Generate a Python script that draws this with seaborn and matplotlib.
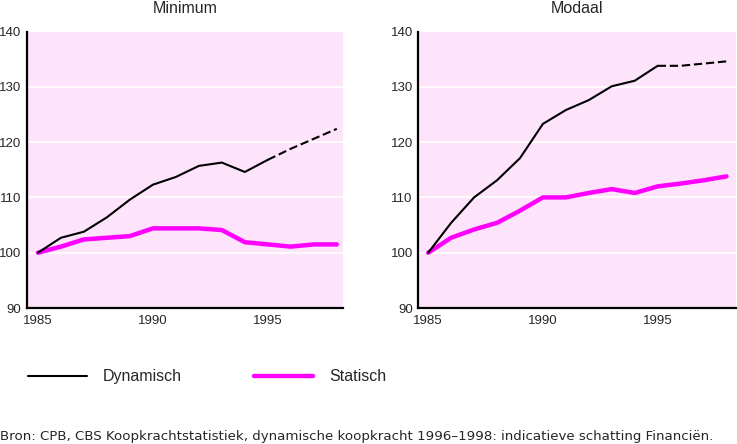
import pandas as pd
import matplotlib.pyplot as plt
import seaborn as sns
from matplotlib.lines import Line2D

# Data (index 1985 = 100)
years = list(range(1985, 1999))
min_dynamisch = [100, 102.7, 103.8, 106.4, 109.6, 112.3, 113.7, 115.7, 116.3, 114.6, 116.8, 118.8, 120.6, 122.4]
min_statisch = [100, 101.1, 102.4, 102.7, 103.0, 104.4, 104.4, 104.4, 104.1, 101.9, 101.5, 101.1, 101.5, 101.5]
mod_dynamisch = [100, 105.4, 110.0, 113.1, 117.1, 123.3, 125.8, 127.6, 130.1, 131.1, 133.8, 133.8, 134.2, 134.6]
mod_statisch = [100, 102.7, 104.2, 105.4, 107.6, 110.0, 110.0, 110.8, 111.5, 110.8, 112.0, 112.5, 113.1, 113.8]
panel_titles = ["Minimum", "Modaal"]
series_names = ["Dynamisch", "Statisch"]
estimate_from = 1995  # dynamic values after this year are estimates (dashed)
source_text = "Bron: CPB, CBS Koopkrachtstatistiek, dynamische koopkracht 1996\u20131998: indicatieve schatting Financi\u00ebn."

sns.set_style("white")
plt.rcParams['font.family'] = ['Liberation Sans', 'DejaVu Sans']

PINK_BG = "#fde4fb"
MAGENTA = "#ff00ff"

fig = plt.figure(figsize=(7.37, 4.44), dpi=100)
ax_left = fig.add_axes([0.0365, 0.3063, 0.4289, 0.6227])
ax_right = fig.add_axes([0.5676, 0.3063, 0.4306, 0.6227])

panels = [
    (ax_left, min_dynamisch, min_statisch, (1984.52, 1998.27)),
    (ax_right, mod_dynamisch, mod_statisch, (1984.57, 1998.4)),
]

for (ax, dyn, stat, xlim), title in zip(panels, panel_titles):
    df = pd.DataFrame({"Jaar": years, "Dynamisch": dyn, "Statisch": stat})
    solid = df[df["Jaar"] <= estimate_from]
    dashed = df[df["Jaar"] >= estimate_from]

    ax.set_facecolor(PINK_BG)
    for yv in [100, 110, 120, 130]:
        ax.axhline(yv, color="white", lw=1.2, zorder=1)

    sns.lineplot(data=df, x="Jaar", y="Statisch", ax=ax, color=MAGENTA, lw=3.2,
                 solid_capstyle="round", solid_joinstyle="round", zorder=3)
    sns.lineplot(data=solid, x="Jaar", y="Dynamisch", ax=ax, color="black", lw=1.5, zorder=4)
    sns.lineplot(data=dashed, x="Jaar", y="Dynamisch", ax=ax, color="black", lw=1.5,
                 linestyle=(0, (4, 1.8)), zorder=4)

    ax.set_xlim(*xlim)
    ax.set_ylim(90, 140)
    ax.set_xticks([1985, 1990, 1995])
    ax.set_yticks([90, 100, 110, 120, 130, 140])
    ax.tick_params(axis="y", length=0, labelsize=9.5, pad=4)
    ax.tick_params(axis="x", length=0, labelsize=9.5, pad=5)
    ax.set_xlabel("")
    ax.set_ylabel("")
    ax.set_title(title, fontsize=11.5, pad=13)
    for side in ["top", "right"]:
        ax.spines[side].set_visible(False)
    for side in ["left", "bottom"]:
        ax.spines[side].set_color("black")
        ax.spines[side].set_linewidth(1.6)

# Legend drawn as figure-level handles
handles = [Line2D([], [], color="black", lw=1.5), Line2D([], [], color=MAGENTA, lw=3.2)]
fig.legend(handles, series_names, loc="center left", bbox_to_anchor=(0.038, 0.151),
           ncol=2, frameon=False, fontsize=11.5, handlelength=3.7, handletextpad=1.0,
           columnspacing=4.5, borderpad=0, borderaxespad=0)

fig.text(0.0, 0.009, source_text, fontsize=9.6, ha="left", va="baseline",
         family=["DejaVu Sans"])

fig.savefig("out.png", dpi=100)
